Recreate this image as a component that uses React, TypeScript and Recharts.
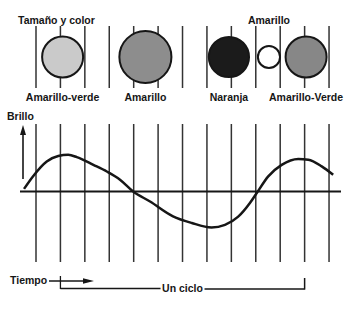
import React from 'react';
import { ComposedChart, XAxis, YAxis, Line, Scatter, ReferenceLine } from 'recharts';

// ---------- DATA ----------
// Vertical time marks (time axis units)
const timeMarks = [0, 1, 2, 3, 4, 5, 6, 7, 8, 9, 10, 11, 12];

// Star states along the cycle
const starPhase = [1.09, 4.48, 7.9, 9.54, 11.06];
const starRelSize = [1.0, 1.27, 0.98, 0.54, 1.0];
const starColorName = ['Amarillo-verde', 'Amarillo', 'Naranja', 'Amarillo', 'Amarillo-Verde'];

// Brightness curve
const curvePhase = [-0.49, -0.11, 0.44, 0.91, 1.32, 1.67, 2.35, 2.9, 3.44, 3.98, 4.67, 5.61, 6.38, 7.19, 7.74, 8.28, 8.76, 9.04, 9.51, 10.06, 10.74, 11.15, 11.7, 12.17];
const curveBrightness = [0.07, 0.42, 0.81, 0.96, 0.99, 0.93, 0.72, 0.54, 0.32, 0.0, -0.27, -0.67, -0.85, -0.97, -0.9, -0.68, -0.31, -0.04, 0.41, 0.72, 0.88, 0.86, 0.68, 0.45];

// One cycle spans these time marks
const cycleStart = 1;
const cycleEnd = 11;

// Texts
const titleText = 'Tamaño y color';
const brightnessLabel = 'Brillo';
const timeLabel = 'Tiempo';
const cycleLabel = 'Un ciclo';

// ---------- STYLE / LAYOUT ----------
const W = 350;
const H = 309;
const PX0 = 36;
const PX_PER_T = 24.42;
const X_DOMAIN: [number, number] = [-PX0 / PX_PER_T, (W - PX0) / PX_PER_T];
const BASE_Y = 191.5;
const PX_PER_B = 37;
const B_DOMAIN: [number, number] = [-(H - BASE_Y) / PX_PER_B, BASE_Y / PX_PER_B];
const STAR_FILLS = ['#cacaca', '#8d8d8d', '#1b1b1b', '#ffffff', '#878787'];
const STAR_LABEL_ABOVE = [false, false, false, true, false];
const BASE_R = 20.5;
const STAR_ROW_Y = 57;
const TOP_LINES: [number, number] = [26, 88];
const BOTTOM_LINES: [number, number] = [124, 262];
const INK = '#161616';
const FONT = { fontFamily: '"Liberation Sans", Arial, sans-serif', fontWeight: 700, fontSize: 10.5, fill: INK } as const;

const stars = starPhase.map((t, i) => ({ t, size: starRelSize[i], name: starColorName[i], idx: i }));
const curve = curvePhase.map((t, i) => ({ t, b: curveBrightness[i] }));

const StarShape = (props: any) => {
  const { cx, cy, payload } = props;
  const r = payload.size * BASE_R;
  const above = STAR_LABEL_ABOVE[payload.idx];
  return (
    <g>
      <circle cx={cx} cy={cy} r={r} fill={STAR_FILLS[payload.idx]} stroke={INK} strokeWidth={2} />
      <text x={cx} y={above ? cy - 33 : cy + 43.5} textAnchor="middle" {...FONT}>
        {payload.name}
      </text>
    </g>
  );
};

// filled arrowhead from base (x1,y1) to tip (x2,y2)
const headShape = (half: number) => (props: any) => {
  const { x1, y1, x2, y2 } = props;
  const dx = x2 - x1;
  const dy = y2 - y1;
  const len = Math.hypot(dx, dy) || 1;
  const ux = dx / len;
  const uy = dy / len;
  return (
    <path
      d={`M${x2},${y2}L${x1 - uy * half},${y1 + ux * half}L${x1 + uy * half},${y1 - ux * half}Z`}
      fill={INK}
      stroke="none"
    />
  );
};

const pxToT = (px: number) => (px - PX0) / PX_PER_T;
const cycleMid = (cycleStart + cycleEnd) / 2;
const cycleGap = 22 / PX_PER_T;
const brilloX = pxToT(23);

export default function App() {
  return (
    <div style={{ position: 'absolute', left: 0, top: 0, width: W, height: H, background: '#fff' }}>
      <ComposedChart width={W} height={H} margin={{ top: 0, right: 0, bottom: 0, left: 0 }}>
        <XAxis type="number" dataKey="t" domain={X_DOMAIN} allowDataOverflow hide />
        <YAxis yAxisId="layout" type="number" domain={[0, H]} reversed allowDataOverflow hide />
        <YAxis yAxisId="bright" type="number" domain={B_DOMAIN} allowDataOverflow hide />

        {timeMarks.map((t) => (
          <ReferenceLine key={`top-${t}`} yAxisId="layout" segment={[{ x: t, y: TOP_LINES[0] }, { x: t, y: TOP_LINES[1] }]} stroke="#333" strokeWidth={1.5} ifOverflow="visible" />
        ))}
        {timeMarks.map((t) => (
          <ReferenceLine key={`bot-${t}`} yAxisId="layout" segment={[{ x: t, y: BOTTOM_LINES[0] }, { x: t, y: BOTTOM_LINES[1] }]} stroke="#333" strokeWidth={1.5} ifOverflow="visible" />
        ))}

        <ReferenceLine yAxisId="bright" segment={[{ x: pxToT(20), y: 0 }, { x: pxToT(341), y: 0 }]} stroke={INK} strokeWidth={2} ifOverflow="visible" />

        <Line yAxisId="bright" data={curve} dataKey="b" type="monotone" dot={false} activeDot={false} stroke={INK} strokeWidth={2.5} isAnimationActive={false} />

        <Scatter yAxisId="layout" data={stars} dataKey={() => STAR_ROW_Y} shape={StarShape} isAnimationActive={false} />

        {/* Brillo arrow */}
        <ReferenceLine yAxisId="layout" segment={[{ x: brilloX, y: 179 }, { x: brilloX, y: 134 }]} stroke={INK} strokeWidth={1.6} ifOverflow="visible" />
        <ReferenceLine yAxisId="layout" segment={[{ x: brilloX, y: 135 }, { x: brilloX, y: 125 }]} shape={headShape(3)} ifOverflow="visible" />
        {/* Tiempo arrow */}
        <ReferenceLine yAxisId="layout" segment={[{ x: pxToT(49), y: 281 }, { x: pxToT(85), y: 281 }]} stroke={INK} strokeWidth={1.4} ifOverflow="visible" />
        <ReferenceLine yAxisId="layout" segment={[{ x: pxToT(83), y: 281 }, { x: pxToT(94), y: 281 }]} shape={headShape(2.8)} ifOverflow="visible" />
        {/* cycle bracket */}
        <ReferenceLine yAxisId="layout" segment={[{ x: cycleStart, y: 276 }, { x: cycleStart, y: 289 }]} stroke={INK} strokeWidth={1.3} ifOverflow="visible" />
        <ReferenceLine yAxisId="layout" segment={[{ x: cycleStart, y: 288.5 }, { x: cycleMid - cycleGap, y: 288.5 }]} stroke={INK} strokeWidth={1.3} ifOverflow="visible" />
        <ReferenceLine yAxisId="layout" segment={[{ x: cycleMid + cycleGap, y: 289 }, { x: cycleEnd, y: 289 }]} stroke={INK} strokeWidth={1.3} ifOverflow="visible" />
        <ReferenceLine yAxisId="layout" segment={[{ x: cycleEnd, y: 278 }, { x: cycleEnd, y: 289.6 }]} stroke={INK} strokeWidth={1.5} ifOverflow="visible" />

        <text x={18} y={23.5} {...FONT}>{titleText}</text>
        <text x={7} y={120} {...FONT}>{brightnessLabel}</text>
        <text x={10} y={284} {...FONT}>{timeLabel}</text>
        <text x={PX0 + cycleMid * PX_PER_T} y={292} textAnchor="middle" {...FONT}>{cycleLabel}</text>
      </ComposedChart>
    </div>
  );
}
